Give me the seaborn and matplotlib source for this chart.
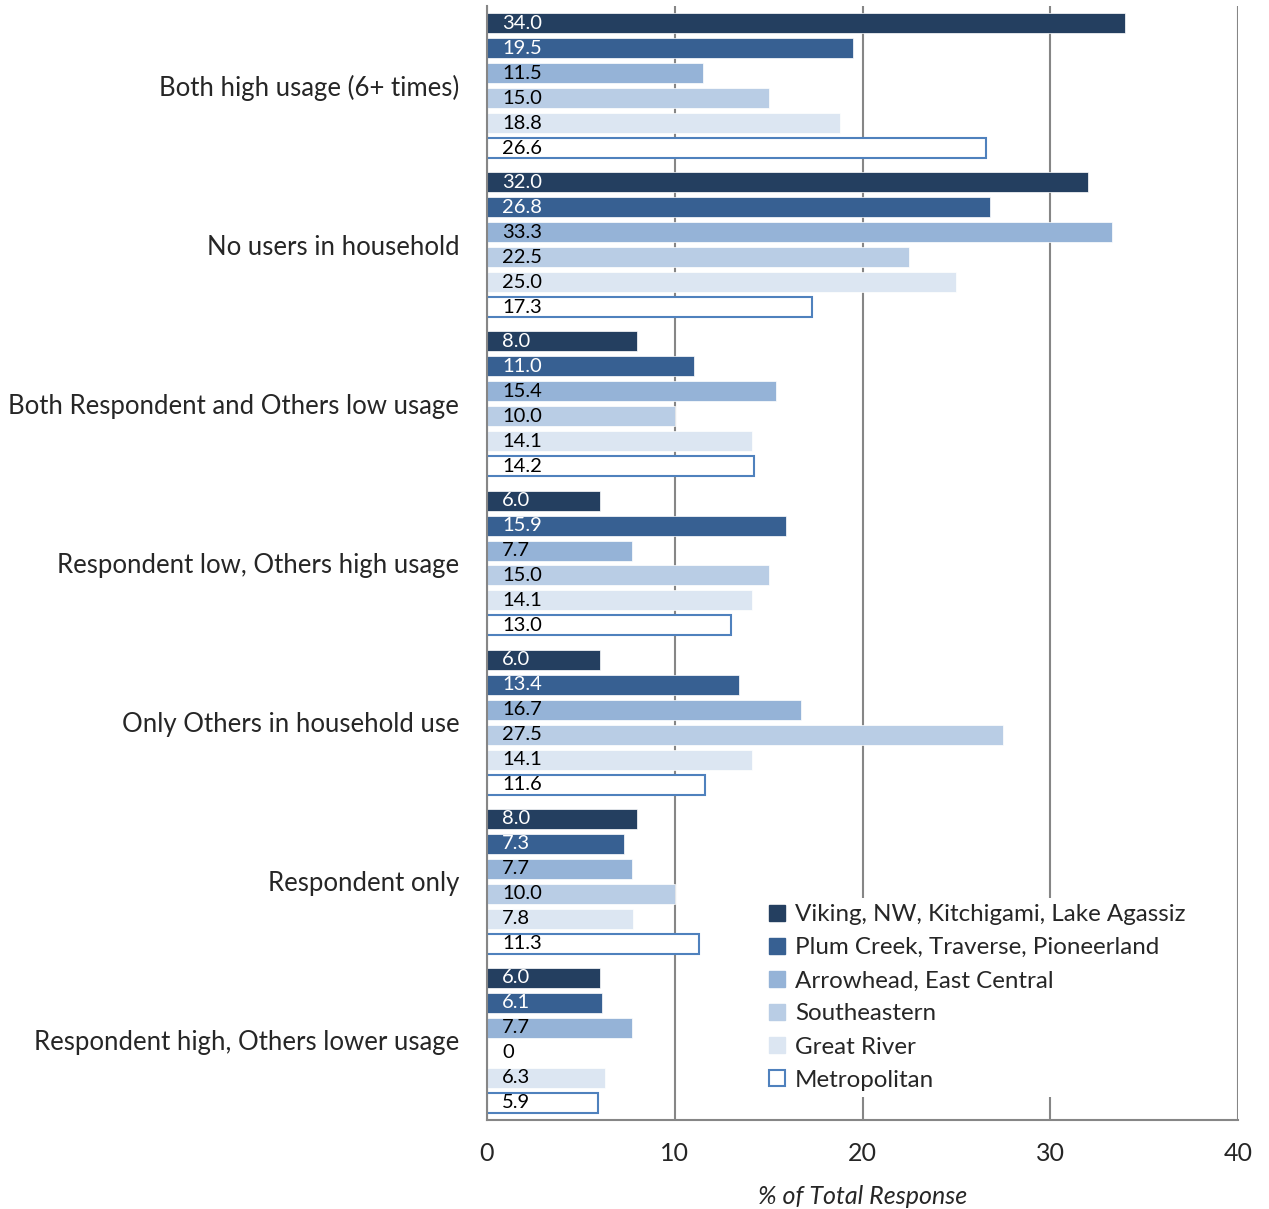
import pandas as pd
import matplotlib
matplotlib.use("Agg")
import matplotlib.pyplot as plt
from matplotlib.patches import Patch
import seaborn as sns

# Chart data
categories = [
    "Both high usage (6+ times)",
    "No users in household",
    "Both Respondent and Others low usage",
    "Respondent low, Others high usage",
    "Only Others in household use",
    "Respondent only",
    "Respondent high, Others lower usage",
]
regions = [
    "Viking, NW, Kitchigami, Lake Agassiz",
    "Plum Creek, Traverse, Pioneerland",
    "Arrowhead, East Central",
    "Southeastern",
    "Great River",
    "Metropolitan",
]
viking = [34.0, 32.0, 8.0, 6.0, 6.0, 8.0, 6.0]
plum_creek = [19.5, 26.8, 11.0, 15.9, 13.4, 7.3, 6.1]
arrowhead = [11.5, 33.3, 15.4, 7.7, 16.7, 7.7, 7.7]
southeastern = [15.0, 22.5, 10.0, 15.0, 27.5, 10.0, 0.0]
great_river = [18.8, 25.0, 14.1, 14.1, 14.1, 7.8, 6.3]
metropolitan = [26.6, 17.3, 14.2, 13.0, 11.6, 11.3, 5.9]
x_ticks = [0, 10, 20, 30, 40]

series = [viking, plum_creek, arrowhead, southeastern, great_river, metropolitan]
colors = ["#243F60", "#376092", "#95B3D7", "#B9CDE5", "#DCE6F2", "#FFFFFF"]
text_colors = ["white", "white", "black", "black", "black", "black"]
edge_blue = "#4F81BD"
grid_gray = "#868686"

rows = []
for region, vals in zip(regions, series):
    for cat, v in zip(categories, vals):
        rows.append({"category": cat, "region": region, "value": v})
df = pd.DataFrame(rows)

sns.set_style("white")
plt.rcParams["font.family"] = ["Lato", "DejaVu Sans"]

fig = plt.figure(figsize=(12.69, 12.09), dpi=100)
ax = fig.add_axes([487 / 1269, 1 - 1120 / 1209, 751 / 1269, 1114 / 1209])

sns.barplot(data=df, x="value", y="category", hue="region", order=categories,
            hue_order=regions, palette=dict(zip(regions, colors)), orient="h",
            width=0.942, gap=0.2, saturation=1, errorbar=None, legend=False, ax=ax)

# style bars and add value labels at the left inside each bar
for i, container in enumerate(ax.containers):
    for patch, v in zip(container.patches, series[i]):
        if i == 5:
            patch.set_edgecolor(edge_blue)
            patch.set_linewidth(1.5)
        else:
            patch.set_edgecolor("white")
            patch.set_linewidth(0.5)
        label = "0" if v == 0 else f"{v:.1f}"
        ax.text(0.8, patch.get_y() + patch.get_height() / 2, label,
                color=text_colors[i], fontsize=14.5, va="center", ha="left", zorder=5)

ax.set_xlim(0, 40)
ax.set_ylim(6.5, -0.5)
ax.set_xticks(x_ticks)
ax.set_xticklabels([str(t) for t in x_ticks], fontsize=18)
ax.tick_params(axis="x", direction="out", length=8, width=1.5, color=grid_gray, pad=8)
ax.tick_params(axis="y", length=0, labelsize=18.5, pad=20)
ax.set_ylabel("")
ax.set_xlabel("% of Total Response", fontsize=18, style="italic", labelpad=14)

ax.set_axisbelow(True)
ax.xaxis.grid(True, color=grid_gray, linewidth=1.5)
ax.yaxis.grid(False)
for side in ["top", "right"]:
    ax.spines[side].set_visible(False)
for side in ["left", "bottom"]:
    ax.spines[side].set_color(grid_gray)
    ax.spines[side].set_linewidth(1.5)

handles = []
for i, (region, c) in enumerate(zip(regions, colors)):
    if i == 5:
        handles.append(Patch(facecolor="white", edgecolor=edge_blue, linewidth=1.5, label=region))
    else:
        handles.append(Patch(facecolor=c, edgecolor=c, label=region))
leg = ax.legend(handles=handles, loc="upper left", bbox_to_anchor=(0.352, 0.21),
                fontsize=17.4, frameon=True, facecolor="white", edgecolor="none",
                framealpha=1, handlelength=0.65, handleheight=0.65,
                handletextpad=0.4, labelspacing=0.5, borderpad=0.25)
leg.set_zorder(10)

fig.savefig("out.png", dpi=100)
